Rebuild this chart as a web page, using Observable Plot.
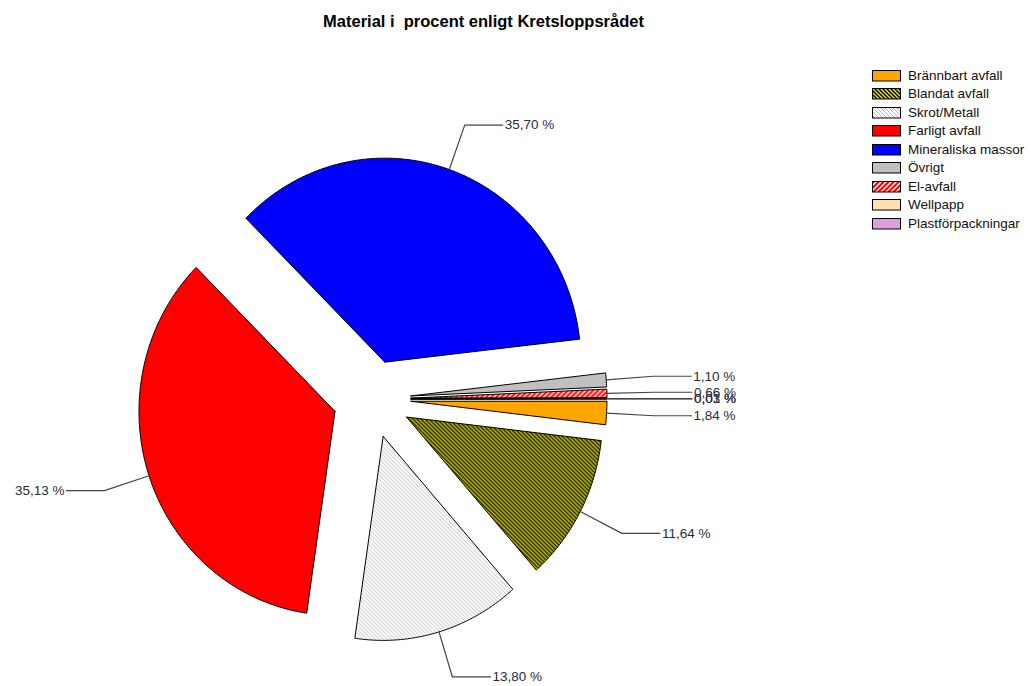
<!DOCTYPE html>
<html><head><meta charset="utf-8">
<script src="https://cdn.jsdelivr.net/npm/d3@7"></script>
<script src="https://cdn.jsdelivr.net/npm/@observablehq/plot@0.6"></script>
<style>
body{margin:0;background:#fff;font-family:"Liberation Sans",Arial,sans-serif;}
#wrap{position:relative;width:1033px;height:686px;overflow:hidden;}
#title{position:absolute;left:0;width:967px;top:12px;text-align:center;font-weight:bold;font-size:16.5px;line-height:19px;white-space:pre;color:#000;}
#legend{position:absolute;left:872px;top:66.5px;font-size:13.5px;color:#111;}
.row{height:18.5px;line-height:18.5px;display:flex;align-items:center;white-space:nowrap;}
.row svg{flex:none;margin-right:6px;}
#defs{position:absolute;width:0;height:0;}
</style></head><body>
<svg id="defs" width="0" height="0">
  <defs>
    <pattern id="pBlandat" patternUnits="userSpaceOnUse" width="4" height="4">
      <rect width="4" height="4" fill="#000"/>
      <path d="M-1,-1 L5,5 M-1,3 L1,5 M3,-1 L5,1" stroke="#f0f000" stroke-width="1.3"/>
    </pattern>
    <pattern id="pSkrot" patternUnits="userSpaceOnUse" width="4" height="4">
      <rect width="4" height="4" fill="#fff"/>
      <path d="M-1,-1 L5,5 M-1,3 L1,5 M3,-1 L5,1" stroke="#b0b0b0" stroke-width="0.9"/>
    </pattern>
    <pattern id="pEl" patternUnits="userSpaceOnUse" width="5" height="5">
      <rect width="5" height="5" fill="#ff0000"/>
      <path d="M-1,6 L6,-1 M-1,1 L1,-1 M4,6 L6,4" stroke="#fff" stroke-width="1.4"/>
    </pattern>
  </defs>
</svg>
<div id="wrap">
  <div id="title">Material i  procent enligt Kretsloppsrådet</div>
  <div id="legend"></div>
</div>
<script>
// ---- data ----
const categories = ["Brännbart avfall","Blandat avfall","Skrot/Metall","Farligt avfall","Mineraliska massor","Övrigt","El-avfall","Wellpapp","Plastförpackningar"];
const values = [1.84, 11.64, 13.80, 35.13, 35.70, 1.10, 0.66, 0.03, 0.01];
const fills = ["#FFA500","url(#pBlandat)","url(#pSkrot)","#FF0000","#0000FF","#C0C0C0","url(#pEl)","#FFE0B2","#DDA0DD"];

// ---- layout ----
const W = 1033, H = 686;
const cx = 371.5, cy = 398.5, rx = 196, ry = 204;
const explode = 39, ext = 47, run = 38, gap = 2;

const data = categories.map((c, i) => ({name: c, value: values[i]}));
const pie = d3.pie().sort(null).value(d => d.value)
  .startAngle(Math.PI / 2).endAngle(Math.PI / 2 + 2 * Math.PI);
const arcs = pie(data);
const dir = a => [Math.sin(a), -Math.cos(a)];

const slicePts = [], leaders = [], labels = [];
arcs.forEach(a => {
  const name = a.data.name;
  const mid = (a.startAngle + a.endAngle) / 2;
  const [mx, my] = dir(mid);
  const ax = explode * mx / rx, ay = explode * my / ry;
  slicePts.push({name, x: ax, y: ay});
  const n = Math.max(2, Math.ceil((a.endAngle - a.startAngle) / (Math.PI / 360)));
  for (let k = 0; k <= n; k++) {
    const t = a.startAngle + (a.endAngle - a.startAngle) * k / n;
    const [ux, uy] = dir(t);
    slicePts.push({name, x: ax + ux, y: ay + uy});
  }
  slicePts.push({name, x: ax, y: ay});
  // leader line
  const px = ax + mx, py = ay + my;
  const ex = px + ext * mx / rx, ey = py + ext * my / ry;
  const side = mx >= 0 ? 1 : -1;
  const fx = ex + side * run / rx;
  leaders.push({name, x: px, y: py}, {name, x: ex, y: ey}, {name, x: fx, y: ey});
  labels.push({name, x: fx, y: ey, side, text: a.data.value.toFixed(2).replace(".", ",") + " %"});
});

const chart = Plot.plot({
  width: W, height: H, margin: 0,
  x: {domain: [-cx / rx, (W - cx) / rx], range: [0, W], axis: null},
  y: {domain: [-cy / ry, (H - cy) / ry], range: [0, H], axis: null},
  color: {type: "ordinal", domain: categories, range: fills},
  style: {fontFamily: "'Liberation Sans', Arial, sans-serif", fontSize: "13.5px", background: "transparent"},
  marks: [
    Plot.line(slicePts, {x: "x", y: "y", z: "name", fill: "name", stroke: "#000", strokeWidth: 1, strokeLinejoin: "miter"}),
    Plot.line(leaders, {x: "x", y: "y", z: "name", stroke: "#444", strokeWidth: 1.2}),
    Plot.text(labels.filter(d => d.side > 0), {x: "x", y: "y", text: "text", textAnchor: "start", dx: gap, fill: "#2a2a3c"}),
    Plot.text(labels.filter(d => d.side < 0), {x: "x", y: "y", text: "text", textAnchor: "end", dx: -gap, fill: "#2a2a3c"})
  ]
});
chart.style.position = "absolute";
chart.style.left = "0";
chart.style.top = "0";
const wrap = document.getElementById("wrap");
wrap.insertBefore(chart, wrap.firstChild);

// ---- legend ----
const legend = document.getElementById("legend");
categories.forEach((c, i) => {
  const row = document.createElement("div");
  row.className = "row";
  row.innerHTML = `<svg width="30" height="12"><rect x="0.5" y="0.5" width="28" height="10.5" fill="${fills[i]}" stroke="#000" stroke-width="1"/></svg><span>${c}</span>`;
  legend.appendChild(row);
});
</script>
</body></html>
